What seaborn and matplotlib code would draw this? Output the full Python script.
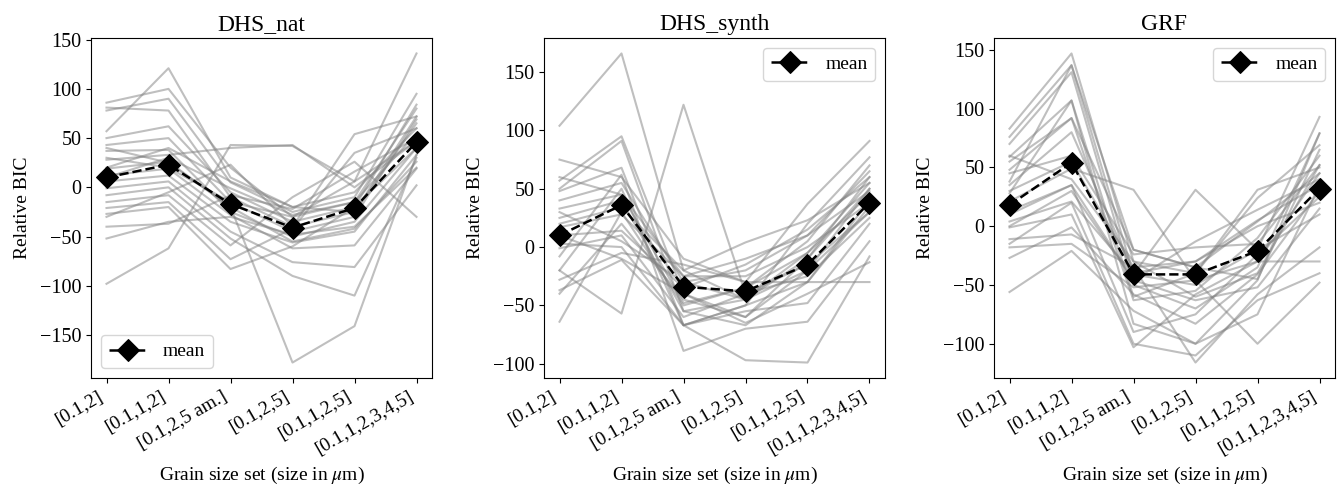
import numpy as np
import pandas as pd
import matplotlib
matplotlib.use("Agg")
import matplotlib.pyplot as plt
import seaborn as sns

plt.rcParams["font.family"] = ["Liberation Serif", "DejaVu Serif"]
plt.rcParams["mathtext.fontset"] = "stix"
plt.rcParams["axes.unicode_minus"] = True

grain_sets = ["[0.1,2]", "[0.1,1,2]", "[0.1,2,5 am.]", "[0.1,2,5]",
              "[0.1,1,2,5]", "[0.1,1,2,3,4,5]"]

# Relative BIC per run (one row per run, one column per grain size set)
dhs_nat_runs = [
    [57, 121, 10, -20, -5, 60],
    [86, 100, 20, -30, -15, 55],
    [81, 78, -10, -40, -25, 72],
    [78, 90, 5, -25, -10, 95],
    [50, 62, -5, -35, -20, 84],
    [43, 50, -15, -45, -30, 69],
    [37, 38, -25, -50, -35, 40],
    [28, 33, 40, 43, 0, 47],
    [19, 26, -20, -55, -42, 26],
    [12, 19, -28, -62, -59, 19],
    [6, 12, -35, -56, -45, 33],
    [-1, 6, -45, -76, -81, 2],
    [-8, 0, -52, -90, -110, 30],
    [-15, -8, -59, -10, 26, -30],
    [-21, -15, -73, -42, 35, 60],
    [-27, -20, -83, -60, -20, 40],
    [-40, -37, -8, -22, 16, 50],
    [-52, -35, -30, -48, -40, 20],
    [-98, -62, 43, 42, 6, 47],
    [40, 25, -20, -178, -141, 33],
    [30, 20, -15, -30, 6, 136],
    [-30, -5, 23, -40, 54, 72],
    [10, 30, -1, -28, -15, 80],
    [20, 40, 6, -20, -25, 65],
]
dhs_nat_mean = [10, 23, -17, -41, -21, 46]

dhs_synth_runs = [
    [104, 166, -20, -45, -10, 60],
    [-20, -57, 122, -40, -15, 30],
    [75, 60, -10, -30, 37, 91],
    [57, 95, -40, -60, -20, 50],
    [50, 91, -55, -67, -30, 40],
    [48, 68, -67, -50, 20, 77],
    [40, 55, -30, -20, 10, 65],
    [33, 45, -48, -35, -5, 45],
    [20, 34, -20, 4, 23, 55],
    [17, 28, -25, -25, 0, 38],
    [10, 14, -35, -15, 15, 60],
    [3, 0, -67, -55, -48, 20],
    [-1, 10, -60, -40, -25, 25],
    [-8, 62, -89, -70, -64, 5],
    [-20, 50, -67, -97, -99, -8],
    [-28, -5, -15, -30, -30, -30],
    [-37, -11, -67, -50, -30, 35],
    [-40, 20, -45, -60, -10, 50],
    [-64, 30, -50, -35, 5, 70],
    [30, 5, -30, -45, -20, 30],
    [60, 45, -25, -10, 10, 48],
    [10, -10, -40, -65, -40, -13],
    [25, 40, -55, -45, -5, 55],
]
dhs_synth_mean = [10, 36, -34, -38, -15, 38]

grf_runs = [
    [83, 147, -30, -60, -40, 52],
    [76, 137, -41, -50, -20, 93],
    [70, 131, -50, -70, -35, 79],
    [59, 107, -60, -40, 24, 69],
    [48, 92, -63, -55, -10, 60],
    [38, 137, -20, -35, 4, 45],
    [28, 107, -83, -100, -75, 35],
    [21, 49, 31, -46, -30, 45],
    [13, 35, -46, -13, 14, 40],
    [4, 21, -41, 31, -20, 10],
    [-1, 10, -103, -58, -30, -30],
    [-11, -7, -35, -116, -58, -18],
    [-18, -15, -52, -46, -100, -48],
    [-27, -1, -58, -83, -41, 30],
    [-56, -21, -72, -100, -46, 79],
    [60, 40, -30, -40, 31, 50],
    [45, 60, -24, -18, -15, 52],
    [30, 55, -35, -30, 5, 35],
    [10, 35, -90, -75, -24, 25],
    [0, 30, -46, -63, -52, 15],
    [-15, 20, -100, -110, -63, -40],
    [35, 80, -40, -30, 0, 20],
    [55, 92, -20, -35, -45, 65],
]
grf_mean = [18, 54, -41, -41, -21, 32]

panels = [
    ("DHS_nat", dhs_nat_runs, dhs_nat_mean, "lower left"),
    ("DHS_synth", dhs_synth_runs, dhs_synth_mean, "upper right"),
    ("GRF", grf_runs, grf_mean, "upper right"),
]


def runs_frame(runs):
    rows = []
    for r, vals in enumerate(runs):
        for i, v in enumerate(vals):
            rows.append({"run": r, "pos": i, "bic": v})
    return pd.DataFrame(rows)


fig = plt.figure(figsize=(13.39, 4.88), dpi=100)
lefts = [91 / 1339, 544 / 1339, 994 / 1339]
width = 341 / 1339
bottom = 1 - 378 / 488
height = (378 - 38) / 488

for left, (title, runs, mean, loc) in zip(lefts, panels):
    ax = fig.add_axes([left, bottom, width, height])
    df = runs_frame(runs)
    sns.lineplot(data=df, x="pos", y="bic", units="run", estimator=None,
                 color="gray", alpha=0.5, lw=1.5, ax=ax, legend=False)
    mean_df = pd.DataFrame({"pos": range(len(mean)), "bic": mean})
    sns.lineplot(data=mean_df, x="pos", y="bic", color="black", ls="--",
                 lw=1.8, marker="D", markersize=11, markeredgecolor="black",
                 label="mean", ax=ax)
    ax.set_xticks(range(len(grain_sets)))
    ax.set_xticklabels(grain_sets, rotation=30, ha="right", fontsize=14)
    ax.tick_params(axis="y", labelsize=14.5)
    ax.set_title(title, fontsize=17)
    ax.set_ylabel("Relative BIC", fontsize=14, labelpad=6)
    ax.set_xlabel(r"Grain size set (size in $\mu$m)", fontsize=14, labelpad=5)
    ax.legend(loc=loc, fontsize=14, handlelength=2.0)

fig.savefig("out.png", dpi=100)
